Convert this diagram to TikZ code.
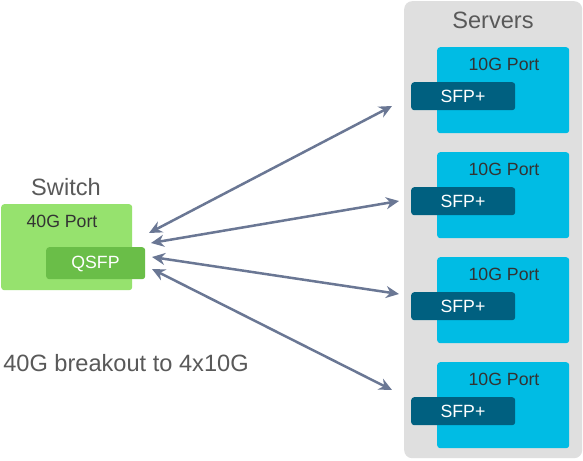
\documentclass[tikz,border=0pt]{standalone}
\usepackage{fontspec}
\setmainfont{Liberation Sans}
\usetikzlibrary{arrows.meta}
\definecolor{swgreen}{RGB}{150,226,110}
\definecolor{qsfpgreen}{RGB}{106,190,72}
\definecolor{srvcyan}{RGB}{0,188,228}
\definecolor{sfpteal}{RGB}{0,96,128}
\definecolor{bggray}{RGB}{223,223,223}
\definecolor{arrowc}{RGB}{106,119,148}
\definecolor{labgray}{RGB}{89,89,89}
\definecolor{darktxt}{RGB}{51,51,51}
\tikzset{
  box/.style={rectangle, rounded corners=3pt, inner sep=0pt, draw=none},
  bigtxt/.style={font=\fontsize{23.6}{28}\selectfont, text=labgray, inner sep=0pt},
  porttxt/.style={font=\fontsize{17.7}{21}\selectfont, text=darktxt, inner sep=0pt},
  modtxt/.style={font=\fontsize{17.7}{21}\selectfont, text=white, inner sep=0pt},
  link/.style={draw=arrowc, line width=2.5pt, {Stealth[length=13pt,width=12pt]}-{Stealth[length=13pt,width=12pt]}}
}
\begin{document}
\begin{tikzpicture}[x=1pt,y=-1pt]
\fill[white] (0,0) rectangle (583,460);
\useasboundingbox (0,0) rectangle (583,460);
% servers background
\node[box, rounded corners=8pt, fill=bggray, minimum width=178pt, minimum height=457pt, anchor=north west] (srvbg) at (404,1) {};
\node[bigtxt] (srvlbl) at (493,20) {Servers};
% switch
\node[bigtxt] (swlbl) at (66,187) {Switch};
\node[box, fill=swgreen, minimum width=131pt, minimum height=86pt, anchor=north west] (sw) at (1,204) {};
\node[porttxt] (swport) at (62,221) {40G Port};
\node[box, fill=qsfpgreen, minimum width=99pt, minimum height=32pt, anchor=north west] (qsfp) at (46,247) {};
\node[modtxt] (qsfptxt) at (95.5,264) {QSFP};
\node[bigtxt] (brk) at (126,363) {40G breakout to 4x10G};
% servers
\foreach \i/\y in {1/47,2/152,3/257,4/362}{
  \node[box, fill=srvcyan, minimum width=132pt, minimum height=86pt, anchor=north west] (srv\i) at (437,\y) {};
  \node[porttxt] (srvport\i) at (504,\y+17) {10G Port};
  \node[box, fill=sfpteal, minimum width=104pt, minimum height=28pt, anchor=north west] (sfp\i) at (411,\y+35) {};
  \node[modtxt] (sfptxt\i) at (463,\y+49) {SFP+};
}
% arrow endpoints
\coordinate (a1) at (149,233);
\coordinate (a2) at (151,243);
\coordinate (a3) at (152,257);
\coordinate (a4) at (152,269);
\coordinate (b1) at (392,106);
\coordinate (b2) at (399,201);
\coordinate (b3) at (399,294);
\coordinate (b4) at (392,390);
\foreach \i in {1,2,3,4}{
  \draw[link] (a\i) -- (b\i);
}
\end{tikzpicture}
\end{document}
